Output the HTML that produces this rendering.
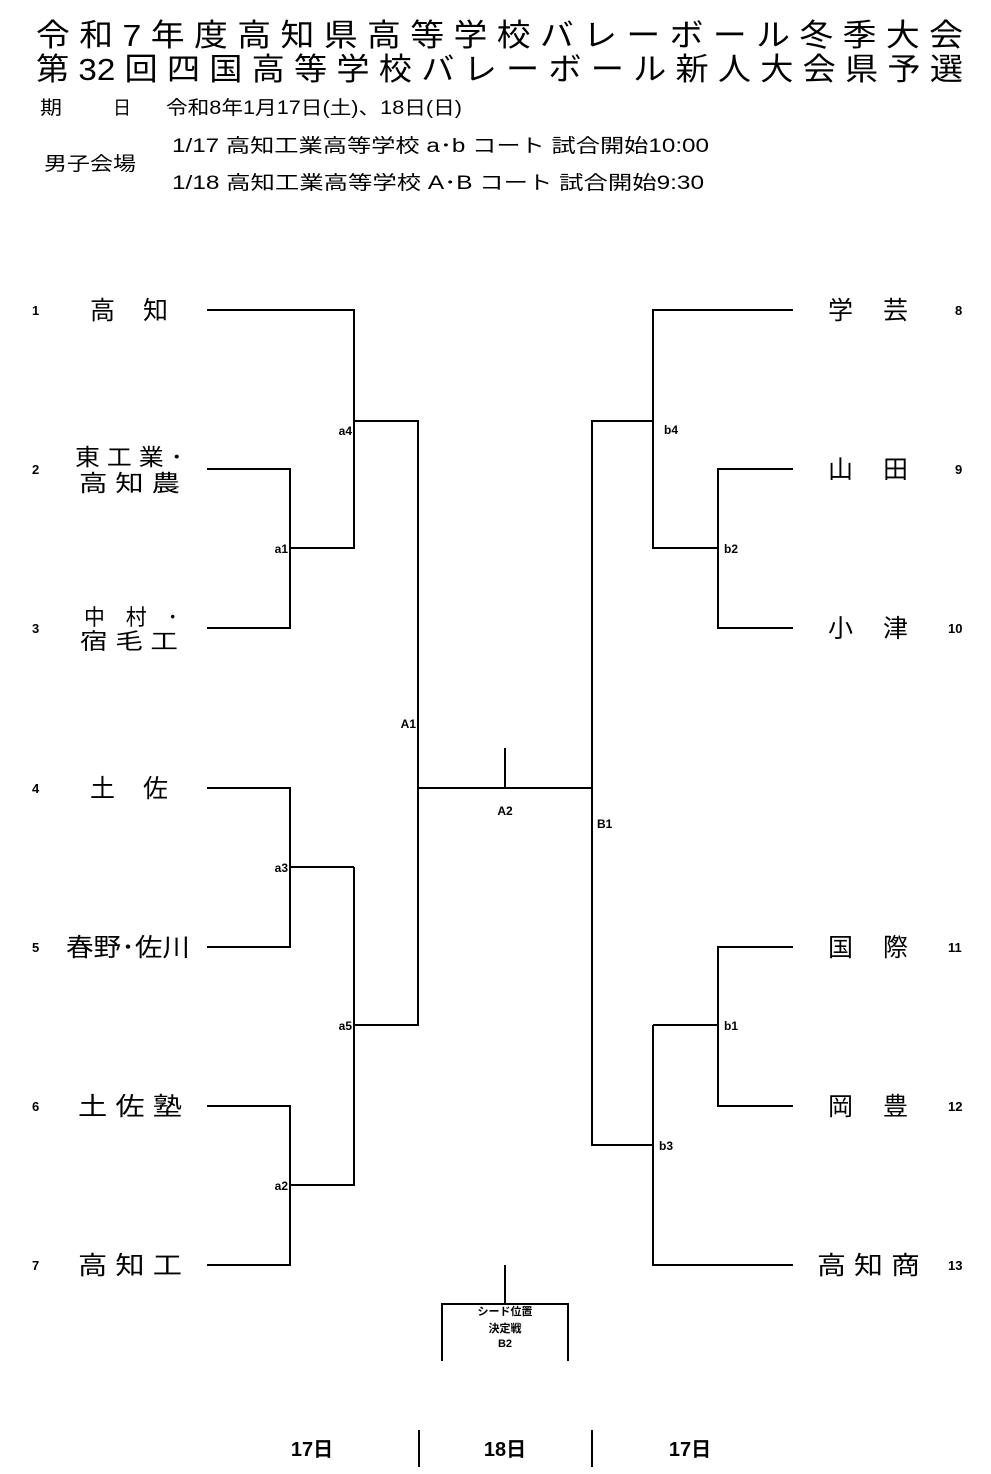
<!DOCTYPE html>
<html><head><meta charset="utf-8"><style>
html,body{margin:0;padding:0;background:#fff;}
svg{display:block;}
text{font-family:"Liberation Sans","Noto Sans CJK JP",sans-serif;fill:#000;}
</style></head><body>
<svg width="991" height="1474" viewBox="0 0 991 1474" xmlns="http://www.w3.org/2000/svg">
<g font-size="31">
<text x="36" y="46" textLength="927" lengthAdjust="spacingAndGlyphs">令 和 7 年 度 高 知 県 高 等 学 校 バ レ ー ボ ー ル 冬 季 大 会</text>
<text x="36" y="80" textLength="927" lengthAdjust="spacingAndGlyphs">第 32 回 四 国 高 等 学 校 バ レ ー ボ ー ル 新 人 大 会 県 予 選</text>
</g>
<g font-size="19">
<text x="40" y="114" textLength="22" lengthAdjust="spacingAndGlyphs">期</text>
<text x="113" y="114" textLength="18" lengthAdjust="spacingAndGlyphs">日</text>
<text x="166" y="114" textLength="296" lengthAdjust="spacingAndGlyphs">令和8年1月17日(土)、18日(日)</text>
<text x="44" y="170" textLength="92" lengthAdjust="spacingAndGlyphs">男子会場</text>
<text x="172" y="152" textLength="537" lengthAdjust="spacingAndGlyphs">1/17  高知工業高等学校  a･b コート    試合開始10:00</text>
<text x="172" y="189" textLength="532" lengthAdjust="spacingAndGlyphs">1/18  高知工業高等学校  A･B コート    試合開始9:30</text>
</g>
<g stroke="#000" stroke-width="2" fill="none">
<polyline points="207,310 354,310 354,548 290,548"/>
<polyline points="207,469 290,469 290,628 207,628"/>
<polyline points="354,421 418,421 418,1025 354,1025"/>
<polyline points="207,788 290,788 290,947 207,947"/>
<line x1="290" y1="867" x2="354" y2="867"/>
<polyline points="354,867 354,1185 290,1185"/>
<polyline points="207,1106 290,1106 290,1265 207,1265"/>
<line x1="418" y1="788" x2="592" y2="788"/>
<line x1="505" y1="748" x2="505" y2="788"/>
<polyline points="793,310 653,310 653,548 718,548"/>
<polyline points="793,469 718,469 718,628 793,628"/>
<polyline points="653,421 592,421 592,1145 653,1145"/>
<polyline points="793,947 718,947 718,1106 793,1106"/>
<line x1="718" y1="1025" x2="653" y2="1025"/>
<polyline points="653,1025 653,1265 793,1265"/>
<line x1="505" y1="1265" x2="505" y2="1304"/>
<polyline points="442,1361 442,1304 568,1304 568,1361"/>
<line x1="419" y1="1430" x2="419" y2="1467"/>
<line x1="592" y1="1430" x2="592" y2="1467"/>
</g>
<g font-size="12" font-weight="bold">
<text x="352" y="435" text-anchor="end">a4</text>
<text x="288" y="553" text-anchor="end">a1</text>
<text x="416" y="728" text-anchor="end">A1</text>
<text x="288" y="872" text-anchor="end">a3</text>
<text x="352" y="1030" text-anchor="end">a5</text>
<text x="288" y="1190" text-anchor="end">a2</text>
<text x="505" y="815" text-anchor="middle">A2</text>
<text x="597" y="828">B1</text>
<text x="664" y="434">b4</text>
<text x="724" y="553">b2</text>
<text x="724" y="1030">b1</text>
<text x="659" y="1150">b3</text>
</g>
<g font-size="13" font-weight="bold">
<text x="32" y="315">1</text>
<text x="32" y="474">2</text>
<text x="32" y="633">3</text>
<text x="32" y="793">4</text>
<text x="32" y="952">5</text>
<text x="32" y="1111">6</text>
<text x="32" y="1270">7</text>
<text x="955" y="315">8</text>
<text x="955" y="474">9</text>
<text x="948" y="633">10</text>
<text x="948" y="952">11</text>
<text x="948" y="1111">12</text>
<text x="948" y="1270">13</text>
</g>
<g font-size="25">
<text x="90" y="319" textLength="78" lengthAdjust="spacing">高　知</text>
<text x="75" y="465" font-size="23" textLength="108" lengthAdjust="spacingAndGlyphs">東 工 業 ･</text>
<text x="79" y="491" font-size="23" textLength="101" lengthAdjust="spacingAndGlyphs">高 知 農</text>
<text x="84" y="625" font-size="22" textLength="94" lengthAdjust="spacingAndGlyphs">中　村　･</text>
<text x="80" y="649" font-size="22" textLength="98" lengthAdjust="spacingAndGlyphs">宿 毛 工</text>
<text x="90" y="797" textLength="78" lengthAdjust="spacing">土　佐</text>
<text x="66" y="956" textLength="124" lengthAdjust="spacingAndGlyphs">春野･佐川</text>
<text x="78" y="1115" textLength="104" lengthAdjust="spacingAndGlyphs">土 佐 塾</text>
<text x="78" y="1274" textLength="104" lengthAdjust="spacingAndGlyphs">高 知 工</text>
<text x="828" y="319" textLength="80" lengthAdjust="spacing">学　芸</text>
<text x="828" y="478" textLength="80" lengthAdjust="spacing">山　田</text>
<text x="828" y="637" textLength="80" lengthAdjust="spacing">小　津</text>
<text x="828" y="956" textLength="80" lengthAdjust="spacing">国　際</text>
<text x="828" y="1115" textLength="80" lengthAdjust="spacing">岡　豊</text>
<text x="817" y="1274" textLength="103" lengthAdjust="spacingAndGlyphs">高 知 商</text>
</g>
<g font-size="11" font-weight="bold" text-anchor="middle">
<text x="505" y="1315">シード位置</text>
<text x="505" y="1332">決定戦</text>
<text x="505" y="1347">B2</text>
</g>
<g font-size="20" font-weight="bold" text-anchor="middle">
<text x="312" y="1456">17日</text>
<text x="505" y="1456">18日</text>
<text x="690" y="1456">17日</text>
</g>
</svg>
</body></html>
